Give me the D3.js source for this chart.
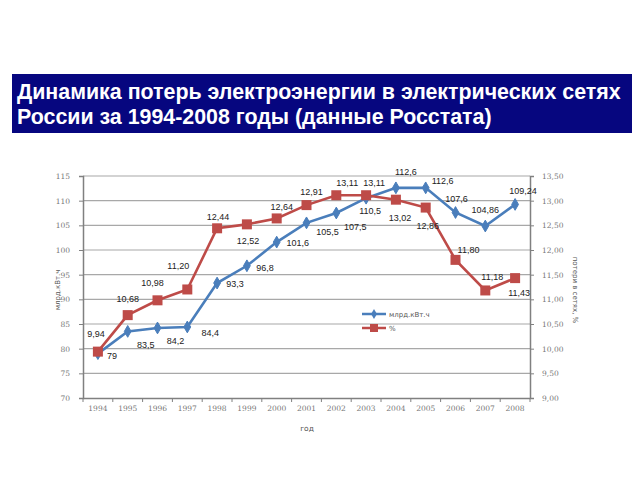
<!DOCTYPE html>
<html><head><meta charset="utf-8">
<script src="https://cdn.jsdelivr.net/npm/d3@7"></script>
<style>body{margin:0;background:#fff}svg{display:block}</style>
</head><body>
<svg id="c" width="640" height="480"></svg>
<script>
const years = ["1994","1995","1996","1997","1998","1999","2000","2001","2002","2003","2004","2005","2006","2007","2008"];
const energy = [79,83.5,84.2,84.4,93.3,96.8,101.6,105.5,107.5,110.5,112.6,112.6,107.6,104.86,109.24];
const energyLabels = ["79","83,5","84,2","84,4","93,3","96,8","101,6","105,5","107,5","110,5","112,6","112,6","107,6","104,86","109,24"];
const percent = [9.94,10.68,10.98,11.20,12.44,12.52,12.64,12.91,13.11,13.11,13.02,12.86,11.80,11.18,11.43];
const percentLabels = ["9,94","10,68","10,98","11,20","12,44","12,52","12,64","12,91","13,11","13,11","13,02","12,86","11,80","11,18","11,43"];
const leftTicks = [70,75,80,85,90,95,100,105,110,115];
const rightTicks = [9,9.5,10,10.5,11,11.5,12,12.5,13,13.5];
const titleLines = ["Динамика потерь электроэнергии в электрических сетях","России за 1994-2008 годы (данные Росстата)"];
const seriesNames = ["млрд.кВт.ч","%"];

// label placement (style)
const eOff = [[14,2],[18,14],[18,13],[23,6],[18,1],[18,2],[21,1],[21,9],[19,14],[4,13],[10,-16],[17,-7],[1,-14],[0,-16],[8,-13]];
const pOff = [[-2,-18],[0,-16],[-5,-17],[-9,-23],[1,-11],[1,17],[5,-11],[5,-13],[11,-12],[8,-12],[4,18],[2,18],[13,-10],[7,-13],[4,15]];

const svg = d3.select("#c");
// Title
svg.append("rect").attr("x",12).attr("y",74).attr("width",620).attr("height",59).attr("fill","#06067f");
const tg = svg.append("g");
titleLines.forEach((t,i)=>{
  const tx = tg.append("text").attr("x",17).attr("y",99+i*25).attr("fill","#fff")
    .attr("font-family","Liberation Sans, Arial, sans-serif").attr("font-weight","bold").attr("font-size",19).text(t);
  if(i===0){const w=tx.node().getComputedTextLength(); tg.attr("data-s",604/w);}
});
const s = +tg.attr("data-s");
tg.selectAll("text").attr("font-size",19*s);

const L=83,R=530,T=176,B=398;
const x = d3.scaleBand().domain(years).range([L,R]);
const yL = d3.scaleLinear().domain([70,115]).range([B,T]);
const yR = d3.scaleLinear().domain([9,13.5]).range([B,T]);

// gridlines
svg.append("g").selectAll("line").data(leftTicks.slice(1)).join("line")
  .attr("x1",L).attr("x2",R).attr("y1",d=>yL(d)).attr("y2",d=>yL(d))
  .attr("stroke","#a8a8a8").attr("stroke-width",1.2);

const tickFont = "DejaVu Serif, serif";
// left axis
const la = svg.append("g").attr("transform",`translate(${L},0)`)
  .call(d3.axisLeft(yL).tickValues(leftTicks).tickSize(4).tickFormat(d3.format("d")));
la.select(".domain").attr("stroke","#808080").attr("stroke-width",1.5);
la.selectAll(".tick line").attr("stroke","#808080");
la.selectAll("text").attr("font-family",tickFont).attr("font-size",7.5).attr("fill","#777").attr("dx",-6);
// right axis
const ra = svg.append("g").attr("transform",`translate(${R},0)`)
  .call(d3.axisRight(yR).tickValues(rightTicks).tickSize(4).tickFormat(d=>d.toFixed(2).replace(".",",")));
ra.select(".domain").attr("stroke","#808080").attr("stroke-width",1.5);
ra.selectAll(".tick line").attr("stroke","#808080");
ra.selectAll("text").attr("font-family",tickFont).attr("font-size",7.5).attr("fill","#777").attr("dx",5);
// bottom axis
const ba = svg.append("g").attr("transform",`translate(0,${B})`)
  .call(d3.axisBottom(x).tickSize(0));
ba.select(".domain").attr("stroke","#808080").attr("stroke-width",1.5);
ba.selectAll("text").attr("font-family",tickFont).attr("font-size",7.5).attr("fill","#777").attr("dy",10);
svg.append("g").selectAll("line").data(years.concat(["end"])).join("line")
  .attr("x1",(d,i)=>L+i*x.step()).attr("x2",(d,i)=>L+i*x.step())
  .attr("y1",B).attr("y2",B+4).attr("stroke","#808080");

// axis titles
svg.append("text").attr("transform","translate(60,290) rotate(-90)").attr("text-anchor","middle")
  .attr("font-family","DejaVu Sans, sans-serif").attr("font-size",7).attr("fill","#555").text(seriesNames[0]);
svg.append("text").attr("transform","translate(573,290) rotate(90)").attr("text-anchor","middle")
  .attr("font-family","DejaVu Sans, sans-serif").attr("font-size",7).attr("fill","#555").text("потери в сетях, %");
svg.append("text").attr("x",307).attr("y",431).attr("text-anchor","middle")
  .attr("font-family","DejaVu Sans, sans-serif").attr("font-size",7.5).attr("fill","#555").text("год");

const cx = d=>x(d)+x.bandwidth()/2;
const blue="#4a7ebb", red="#be4b48";
// lines
svg.append("path").datum(energy).attr("fill","none").attr("stroke",blue).attr("stroke-width",2.6)
  .attr("d",d3.line().x((d,i)=>cx(years[i])).y(d=>yL(d)));
svg.append("path").datum(percent).attr("fill","none").attr("stroke",red).attr("stroke-width",2.6)
  .attr("d",d3.line().x((d,i)=>cx(years[i])).y(d=>yR(d)));
// markers
svg.append("g").selectAll("path").data(energy).join("path")
  .attr("transform",(d,i)=>`translate(${cx(years[i])},${yL(d)})`)
  .attr("d",d3.symbol(d3.symbolDiamond,40)).attr("fill",blue).attr("stroke",blue);
svg.append("g").selectAll("rect").data(percent).join("rect")
  .attr("x",(d,i)=>cx(years[i])-5).attr("y",d=>yR(d)-5).attr("width",10).attr("height",10).attr("fill",red);

// data labels
const lf = "Liberation Sans, Arial, sans-serif";
svg.append("g").selectAll("text").data(energy).join("text")
  .attr("x",(d,i)=>cx(years[i])+eOff[i][0]).attr("y",(d,i)=>yL(d)+eOff[i][1]+3)
  .attr("text-anchor","middle").attr("font-family",lf).attr("font-size",9).attr("fill","#222")
  .text((d,i)=>energyLabels[i]);
svg.append("g").selectAll("text").data(percent).join("text")
  .attr("x",(d,i)=>cx(years[i])+pOff[i][0]).attr("y",(d,i)=>yR(d)+pOff[i][1]+3)
  .attr("text-anchor","middle").attr("font-family",lf).attr("font-size",9).attr("fill","#222")
  .text((d,i)=>percentLabels[i]);

// legend
const lg = svg.append("g").attr("transform","translate(362,314)");
lg.append("line").attr("x1",0).attr("x2",24).attr("y1",0).attr("y2",0).attr("stroke",blue).attr("stroke-width",2.5);
lg.append("path").attr("transform","translate(12,0)").attr("d",d3.symbol(d3.symbolDiamond,30)).attr("fill",blue);
lg.append("text").attr("x",27).attr("y",3).attr("font-family","DejaVu Sans, sans-serif").attr("font-size",7).attr("fill","#555").text(seriesNames[0]);
lg.append("line").attr("x1",0).attr("x2",24).attr("y1",14).attr("y2",14).attr("stroke",red).attr("stroke-width",2.5);
lg.append("rect").attr("x",8).attr("y",10).attr("width",8).attr("height",8).attr("fill",red);
lg.append("text").attr("x",27).attr("y",17).attr("font-family","DejaVu Sans, sans-serif").attr("font-size",7).attr("fill","#555").text(seriesNames[1]);
</script>
</body></html>
